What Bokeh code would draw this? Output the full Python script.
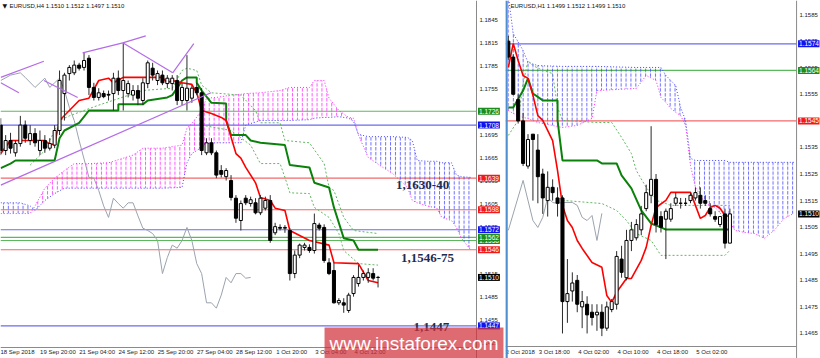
from bokeh.plotting import figure
from bokeh.models import Range1d, LinearAxis, FixedTicker, PrintfTickFormatter, Label, Span
from bokeh.layouts import row
from bokeh.embed import file_html
from bokeh.resources import INLINE
from bokeh.core.properties import value

# ======================= EURUSD H4 (left panel) =======================
h4_title = "EURUSD,H4  1.1510 1.1512 1.1497 1.1510"
h4_open = [1.1708,1.1675,1.1688,1.1672,1.1684,1.1708,1.1688,1.1697,1.1675,1.1688,
           1.1678,1.1682,1.1701,1.1749,1.1775,1.1776,1.1786,1.1783,1.1795,1.1757,
           1.1744,1.1749,1.1748,1.1749,1.1769,1.1753,1.1749,1.1747,1.1753,1.1740,
           1.1762,1.1782,1.1766,1.1773,1.1762,1.1762,1.1766,1.1740,1.1740,1.1743,
           1.1757,1.1750,1.1672,1.1685,1.1672,1.1649,1.1641,1.1636,1.1613,1.1584,
           1.1613,1.1606,1.1607,1.1594,1.1600,1.1610,1.1568,1.1575,1.1574,1.1571,
           1.1515,1.1539,1.1549,1.1549,1.1545,1.1578,1.1575,1.1529,1.1519,1.1477,
           1.1477,1.1467,1.1489,1.1502,1.1510,1.1510,1.1515,1.1510]
h4_high = [1.1717,1.1695,1.1698,1.1688,1.1720,1.1714,1.1708,1.1704,1.1701,1.1695,
           1.1691,1.1708,1.1779,1.1776,1.1786,1.1792,1.1789,1.1802,1.1799,1.1763,
           1.1756,1.1753,1.1753,1.1776,1.1779,1.1815,1.1766,1.1760,1.1760,1.1769,
           1.1792,1.1789,1.1779,1.1779,1.1773,1.1773,1.1773,1.1763,1.1799,1.1760,
           1.1763,1.1756,1.1691,1.1691,1.1675,1.1656,1.1652,1.1643,1.1617,1.1610,
           1.1617,1.1615,1.1613,1.1617,1.1615,1.1617,1.1581,1.1579,1.1578,1.1574,
           1.1545,1.1554,1.1555,1.1553,1.1593,1.1581,1.1579,1.1535,1.1529,1.1483,
           1.1483,1.1490,1.1513,1.1526,1.1519,1.1522,1.1522,1.1512]
h4_low = [1.1669,1.1669,1.1671,1.1667,1.1680,1.1685,1.1682,1.1680,1.1669,1.1672,
          1.1675,1.1678,1.1695,1.1714,1.1766,1.1773,1.1779,1.1779,1.1747,1.1740,
          1.1740,1.1743,1.1740,1.1727,1.1747,1.1727,1.1744,1.1740,1.1734,1.1734,
          1.1756,1.1766,1.1760,1.1760,1.1756,1.1753,1.1734,1.1734,1.1727,1.1737,
          1.1747,1.1669,1.1669,1.1669,1.1639,1.1640,1.1636,1.1610,1.1581,1.1571,
          1.1604,1.1602,1.1592,1.1591,1.1597,1.1555,1.1565,1.1571,1.1568,1.1506,
          1.1509,1.1535,1.1545,1.1542,1.1541,1.1571,1.1529,1.1513,1.1476,1.1474,
          1.1464,1.1464,1.1485,1.1498,1.1506,1.1503,1.1506,1.1497]
h4_close = [1.1675,1.1688,1.1678,1.1684,1.1708,1.1691,1.1697,1.1685,1.1688,1.1678,
            1.1684,1.1701,1.1766,1.1773,1.1783,1.1786,1.1782,1.1792,1.1757,1.1744,
            1.1750,1.1745,1.1747,1.1769,1.1753,1.1766,1.1762,1.1753,1.1743,1.1763,
            1.1789,1.1773,1.1775,1.1763,1.1769,1.1769,1.1740,1.1757,1.1756,1.1756,
            1.1750,1.1675,1.1685,1.1672,1.1643,1.1644,1.1649,1.1614,1.1587,1.1606,
            1.1607,1.1611,1.1594,1.1613,1.1610,1.1558,1.1576,1.1574,1.1575,1.1515,
            1.1539,1.1552,1.1552,1.1545,1.1580,1.1574,1.1532,1.1515,1.1477,1.1480,
            1.1474,1.1487,1.1510,1.1510,1.1515,1.1516,1.1509,1.1510]

h4_tenkan_bar = [0,2,9,10,11,12,14,16,18,20,22,23,25,33,34,35,37,39,40,41,
                 43,45,46,48,49,50,52,53,55,56,58,59,63,67,68,73,75,77]
h4_tenkan = [1.1671,1.1688,1.1688,1.1683,1.1683,1.1714,1.1727,1.1740,1.1743,1.1766,
             1.1769,1.1763,1.1770,1.1770,1.1763,1.1766,1.1763,1.1761,1.1750,1.1727,
             1.1723,1.1718,1.1714,1.1671,1.1665,1.1653,1.1633,1.1614,1.1610,1.1600,
             1.1597,1.1571,1.1558,1.1552,1.1529,1.1528,1.1506,1.1503]
h4_kijun_bar = [0,2,3,11,12,13,16,18,24,24,29,30,33,34,35,36,37,38,40,40,
                41,43,46,46,47,50,51,53,58,59,63,64,67,68,70,72,73,77]
h4_kijun = [1.1652,1.1658,1.1662,1.1662,1.1691,1.1701,1.1711,1.1727,1.1727,1.1735,
            1.1735,1.1740,1.1743,1.1744,1.1747,1.1756,1.1766,1.1770,1.1770,1.1763,
            1.1753,1.1737,1.1736,1.1714,1.1695,1.1695,1.1688,1.1685,1.1682,1.1656,
            1.1653,1.1633,1.1627,1.1601,1.1561,1.1558,1.1546,1.1546]
h4_dot1_bar = [6,9,12,14,20,29,35,37,38,40,41,43,49,52,53,57,58,63,66,67,68,70,72,77]
h4_dot1 = [1.1656,1.1675,1.1714,1.1720,1.1734,1.1753,1.1756,1.1779,1.1782,1.1779,
           1.1760,1.1750,1.1747,1.1727,1.1711,1.1711,1.1688,1.1685,1.1658,1.1627,
           1.1623,1.1588,1.1571,1.1567]
h4_dot2_bar = [41,47,51,53,57,58,59,63,64,67,69,70,73,77]
h4_dot2 = [1.1708,1.1701,1.1682,1.1658,1.1658,1.1640,1.1620,1.1619,1.1601,1.1588,
           1.1567,1.1545,1.1528,1.1526]
h4_chikou_bar = [0,2,4,5,7,9,10,11,12,13,14,15,16,18,19,20,21,22,23,24,
                 25,26,27,28,29,30,31,32,33,34,35,36,37,38,39,40,41,42,43,44,
                 45,46,47,48,49,50,51]
h4_chikou = [1.1766,1.1773,1.1776,1.1770,1.1757,1.1769,1.1757,1.1763,1.1769,1.1753,
             1.1731,1.1714,1.1688,1.1640,1.1639,1.1623,1.1603,1.1588,1.1613,1.1606,
             1.1600,1.1607,1.1607,1.1590,1.1574,1.1571,1.1567,1.1558,1.1515,1.1536,
             1.1552,1.1548,1.1558,1.1575,1.1558,1.1528,1.1515,1.1477,1.1477,1.1470,
             1.1487,1.1510,1.1503,1.1515,1.1515,1.1509,1.1510]
h4_cloud_bar = [0,4,6,7,9,11,13,15,18,22,27,29,33,37,38,39,41,42,44,47,
                49,50,53,57,59,63,64,66,67,69,71,72,73,75,78,80,83,84,85,87,
                89,90,92,93,94,96]
h4_span_a = [1.1593,1.1593,1.1593,1.1603,1.1626,1.1639,1.1649,1.1658,1.1658,1.1659,
             1.1669,1.1678,1.1678,1.1682,1.1704,1.1710,1.1727,1.1743,1.1744,1.1747,
             1.1748,1.1749,1.1750,1.1753,1.1757,1.1757,1.1766,1.1766,1.1743,1.1727,
             1.1718,1.1717,1.1695,1.1666,1.1653,1.1645,1.1627,1.1610,1.1607,1.1603,
             1.1600,1.1588,1.1584,1.1575,1.1561,1.1545]
h4_span_b = [1.1607,1.1607,1.1603,1.1597,1.1610,1.1619,1.1626,1.1626,1.1626,1.1626,
             1.1626,1.1626,1.1626,1.1627,1.1659,1.1671,1.1679,1.1684,1.1685,1.1685,
             1.1685,1.1708,1.1714,1.1714,1.1714,1.1715,1.1717,1.1718,1.1718,1.1719,
             1.1717,1.1713,1.1696,1.1693,1.1693,1.1693,1.1692,1.1688,1.1662,1.1661,
             1.1661,1.1659,1.1659,1.1643,1.1641,1.1640]
h4_trend_bars = [[0, 8.8], [0, 3.7], [8.8, 15.7], [16.7, 24.9, 29.6], [24.9, 35.1], [35.1, 39.4], [0, 42.9]]
h4_trend_prices = [[1.1770, 1.1791], [1.1763, 1.1750], [1.1766, 1.1744], [1.1802, 1.1815, 1.1824],
                   [1.1815, 1.1776], [1.1776, 1.1814], [1.1630, 1.1750]]
h4_levels = [1.1726, 1.1708, 1.1639, 1.1598, 1.1572, 1.1558, 1.1562, 1.1546, 1.1447]
h4_level_kind = ["green", "blue", "red", "red", "blue", "green", "green", "red", "blue"]
h4_last = 1.1510
h4_price_ticks = [1.1425, 1.1455, 1.1485, 1.1515, 1.1545, 1.1575, 1.1605, 1.1635,
                  1.1665, 1.1695, 1.1725, 1.1755, 1.1785, 1.1815, 1.1845]
h4_time_bars = [-1, 8, 16, 24, 32, 40, 48, 56, 64, 72]
h4_time_text = ["18 Sep 2018", "19 Sep 20:00", "21 Sep 04:00", "24 Sep 12:00", "25 Sep 20:00",
                "27 Sep 04:00", "28 Sep 12:00", "1 Oct 20:00", "3 Oct 04:00", "4 Oct 12:00"]
ann_text = ["1,1630-40", "1,1546-75", "1,1447"]
ann_bar = [86.1, 87.1, 87.9]
ann_price = [1.1630, 1.1535, 1.14455]

# ======================= EURUSD H1 (right panel) =======================
h1_title = "EURUSD,H1  1.1499 1.1512 1.1499 1.1510"
h1_open = [1.1575,1.1569,1.1553,1.1545,1.1528,1.1540,1.1534,1.1525,1.1515,1.1520,
           1.1516,1.1516,1.1477,1.1481,1.1485,1.1475,1.1476,1.1473,1.1472,1.1473,
           1.1467,1.1474,1.1476,1.1493,1.1486,1.1500,1.1501,1.1504,1.1512,1.1517,
           1.1523,1.1509,1.1508,1.1508,1.1514,1.1514,1.1514,1.1515,1.1516,1.1517,
           1.1515,1.1512,1.1509,1.1506,1.1510,1.1499]
h1_high = [1.1577,1.1570,1.1555,1.1548,1.1540,1.1540,1.1540,1.1527,1.1526,1.1523,
           1.1520,1.1517,1.1493,1.1488,1.1487,1.1481,1.1479,1.1476,1.1476,1.1476,
           1.1477,1.1478,1.1496,1.1498,1.1504,1.1507,1.1508,1.1513,1.1521,1.1543,
           1.1525,1.1511,1.1512,1.1514,1.1518,1.1516,1.1516,1.1518,1.1520,1.1520,
           1.1517,1.1514,1.1511,1.1509,1.1512,1.1512]
h1_low = [1.1568,1.1555,1.1544,1.1528,1.1527,1.1515,1.1514,1.1510,1.1509,1.1515,
          1.1509,1.1465,1.1469,1.1477,1.1473,1.1467,1.1465,1.1468,1.1466,1.1464,
          1.1466,1.1473,1.1474,1.1486,1.1485,1.1496,1.1500,1.1502,1.1511,1.1514,
          1.1503,1.1503,1.1493,1.1507,1.1513,1.1512,1.1513,1.1514,1.1515,1.1512,
          1.1513,1.1509,1.1507,1.1505,1.1497,1.1499]
h1_close = [1.1569,1.1555,1.1545,1.1529,1.1538,1.1538,1.1524,1.1516,1.1520,1.1518,
            1.1514,1.1477,1.1480,1.1484,1.1476,1.1477,1.1472,1.1471,1.1473,1.1467,
            1.1475,1.1477,1.1494,1.1488,1.1500,1.1504,1.1506,1.1510,1.1518,1.1523,
            1.1506,1.1505,1.1511,1.1512,1.1516,1.1514,1.1514,1.1517,1.1518,1.1514,
            1.1514,1.1510,1.1508,1.1509,1.1499,1.1510]
h1_tenkan_bar = [0,1,2,3,4,5,6,7,9,10,11,12,13,14,15,17,19,20,21,22,
                 24,25,27,28,29,30,32,33,37,38,39,40,41,42,43,44,45]
h1_tenkan = [1.15651,1.15741,1.15677,1.15621,1.15610,1.15546,1.15470,1.15452,1.15376,1.15263,
             1.15132,1.15075,1.15049,1.15000,1.14970,1.14917,1.14899,1.14793,1.14767,1.14805,
             1.14857,1.14857,1.14925,1.14974,1.15057,1.15124,1.15151,1.15181,1.15181,1.15132,
             1.15083,1.15094,1.15124,1.15132,1.15121,1.15094,1.15090]
h1_kijun_bar = [0,1,3,4,5,7,10,10,11,18,19,22,23,25,27,29,31,32,45]
h1_kijun = [1.15500,1.15500,1.15564,1.15610,1.15553,1.15527,1.15527,1.15452,1.15301,1.15301,
            1.15290,1.15290,1.15245,1.15196,1.15113,1.15064,1.15049,1.15041,1.15041]
h1_dot1_bar = [0,2,3,4,5,7,9,10,11,18,21,23,25,26,28,30,32,33,45]
h1_dot1 = [1.15395,1.15452,1.15591,1.15677,1.15658,1.15640,1.15628,1.15500,1.15452,1.15444,
           1.15444,1.15388,1.15327,1.15263,1.15200,1.15151,1.15139,1.15132,1.15132]
h1_dot2_bar = [11,19,22,24,26,29,31,44,45]
h1_dot2 = [1.15151,1.15139,1.15113,1.15075,1.15026,1.15000,1.14944,1.14944,1.14963]
h1_chikou_bar = [0,3,5,6,7,8,9,10,11,13,14,15,16,17,18,19]
h1_chikou = [1.15038,1.15226,1.15075,1.15049,1.15087,1.15162,1.15143,1.15139,1.15143,1.15143,
             1.15132,1.15087,1.15075,1.15094,1.15000,1.15102]
h1_cloud_bar = [0,1,3,4,6,11,14,17,18,26,28,30,31,32,33,34,35,36,37,38,
                40,42,44,45,46,48,50,52,54,56,58]
h1_span_a = [1.15489,1.15478,1.15463,1.15459,1.15444,1.15425,1.15433,1.15459,1.15564,1.15572,
             1.15621,1.15602,1.15538,1.15519,1.15497,1.15482,1.15470,1.15433,1.15282,1.15200,
             1.15139,1.15124,1.15083,1.15068,1.15038,1.15030,1.15026,1.15008,1.15038,1.15083,
             1.15102]
h1_span_b = [1.15920,1.15779,1.15715,1.15670,1.15658,1.15655,1.15655,1.15655,1.15655,1.15651,
             1.15651,1.15651,1.15651,1.15621,1.15602,1.15583,1.15500,1.15452,1.15309,1.15301,
             1.15301,1.15301,1.15301,1.15294,1.15294,1.15294,1.15294,1.15294,1.15294,1.15294,
             1.15294]
h1_levels = [1.1574, 1.1564, 1.1545]
h1_level_kind = ["blue", "green", "red"]
h1_last = 1.1510
h1_price_ticks = [1.1465, 1.1475, 1.1485, 1.1495, 1.1505, 1.1515, 1.1525, 1.1535,
                  1.1545, 1.1555, 1.1565, 1.1575, 1.1585]
h1_time_bars = [-2, 6, 14, 22, 30, 38]
h1_time_text = ["3 Oct 2018", "3 Oct 18:00", "4 Oct 02:00", "4 Oct 10:00", "4 Oct 18:00", "5 Oct 02:00"]

# ======================= styling / layout =======================
FONT = "Liberation Sans"
LINE_COL = {"green": "#5cb85c", "blue": "#6b6bf0", "red": "#f26a6a"}
TAG_COL = {"green": "#1c8c1c", "blue": "#1212ee", "red": "#f01a1a", "black": "#000000"}
BULL_CLOUD = "#ff2bff"
BEAR_CLOUD = "#4848ff"
AXIS_COL = "#8a8a8a"
H = 358

# left canvas 505 px wide; price column starts at 476, time row at 347
H4_W, H4_AX, H4_AY = 505, 476, 347
H4_X = (-0.05, -0.05 + 505 / 4.9)
H4_Y = (1.1870 - 0.00013 * 358, 1.1870)
# right canvas 315 px wide (starts at 505); price column at 292, time row at 346
H1_W, H1_AX, H1_AY = 315, 292, 346
H1_X = (-0.57, -0.57 + 315 / 4.94)
H1_Y = (1.15903 - 0.00003763 * 358, 1.15903)


def dx(xr, w, px):
    return xr[0] + (xr[1] - xr[0]) * px / w


def dy(yr, py):
    return yr[1] - (yr[1] - yr[0]) * py / H


def make_fig(width, xr, yr):
    p = figure(width=width, height=H, x_range=Range1d(*xr), y_range=Range1d(*yr),
               output_backend="svg", toolbar_location=None,
               x_axis_location=None, y_axis_location=None,
               min_border_left=0, min_border_right=0, min_border_top=0, min_border_bottom=0)
    p.grid.visible = False
    p.outline_line_color = None
    p.background_fill_color = "white"
    p.border_fill_color = "white"
    return p


def style_axis(ax):
    ax.axis_line_color = None
    ax.major_tick_line_color = None
    ax.minor_tick_line_color = None
    ax.major_tick_in = 0
    ax.major_tick_out = 0
    ax.major_label_text_font = FONT
    ax.major_label_text_font_size = "6px"
    ax.major_label_text_color = "#222222"


def add_axes(p, width, axis_px, price_ticks, time_bars, time_text, px_per_bar):
    ya = LinearAxis(ticker=FixedTicker(ticks=price_ticks, minor_ticks=[]),
                    formatter=PrintfTickFormatter(format="%.4f"))
    style_axis(ya)
    ya.major_label_standoff = axis_px + 3 - width
    p.add_layout(ya, "right")
    pos = [b + len(t) * 1.5 / px_per_bar for b, t in zip(time_bars, time_text)]
    xa = LinearAxis(ticker=FixedTicker(ticks=pos, minor_ticks=[]),
                    major_label_overrides={q: t for q, t in zip(pos, time_text)})
    style_axis(xa)
    xa.major_label_standoff = -10
    p.add_layout(xa, "below")


def frame_lines(p, xr, yr, width, ax_px, ay_px):
    x_ax = dx(xr, width, ax_px)
    y_ax = dy(yr, ay_px)
    p.segment(x0=[x_ax, xr[0]], y0=[yr[0], y_ax], x1=[x_ax, x_ax], y1=[yr[1], y_ax],
              line_color=AXIS_COL, line_width=1)
    return x_ax


def split_cloud(xs, a, b):
    pieces = []
    cx, ca, cb = [xs[0]], [a[0]], [b[0]]
    bull = a[0] >= b[0]
    for k in range(1, len(xs)):
        nb = a[k] >= b[k]
        if nb != bull:
            d0, d1 = a[k - 1] - b[k - 1], a[k] - b[k]
            t = d0 / (d0 - d1)
            xc = xs[k - 1] + t * (xs[k] - xs[k - 1])
            yc = a[k - 1] + t * (a[k] - a[k - 1])
            cx.append(xc); ca.append(yc); cb.append(yc)
            pieces.append((cx, ca, cb, bull))
            cx, ca, cb = [xc], [yc], [yc]
            bull = nb
        cx.append(xs[k]); ca.append(a[k]); cb.append(b[k])
    pieces.append((cx, ca, cb, bull))
    return pieces


def draw_cloud(p, xs, a, b):
    for px_, pa, pb, bull in split_cloud(xs, a, b):
        col = BULL_CLOUD if bull else BEAR_CLOUD
        p.varea(x=px_, y1=pa, y2=pb, fill_color=None, fill_alpha=0,
                hatch_pattern=":", hatch_color=col, hatch_scale=4.9, hatch_weight=1, hatch_alpha=0.8)
    p.line(xs, a, line_color=BULL_CLOUD, line_dash="1 2", line_width=1)
    p.line(xs, b, line_color=BEAR_CLOUD, line_dash="1 2", line_width=1)


def draw_candles(p, o, h, l, c):
    bars = list(range(len(o)))
    p.segment(x0=bars, y0=l, x1=bars, y1=h, line_color="#2b2b2b", line_width=1)
    tops = [max(u, v) for u, v in zip(o, c)]
    bots = [min(u, v) for u, v in zip(o, c)]
    fills = ["white" if v >= u else "black" for u, v in zip(o, c)]
    p.vbar(x=bars, width=0.62, top=tops, bottom=bots, fill_color=fills,
           line_color="black", line_width=1)


def draw_levels(p, x0, x1, levels, kinds):
    p.segment(x0=[x0] * len(levels), y0=levels, x1=[x1] * len(levels), y1=levels,
              line_color=[LINE_COL[k] for k in kinds], line_width=1.2)


def price_tag(p, x, price, kind):
    p.add_layout(Label(x=x, y=price, text="%.4f" % price, text_font=FONT, text_font_size="6.5px",
                       text_color="white", text_align="left", text_baseline="middle",
                       background_fill_color=TAG_COL[kind], background_fill_alpha=1.0,
                       padding=1))


def title(p, xr, width, yr, px, text):
    p.add_layout(Label(x=dx(xr, width, px), y=dy(yr, 5), text=text, text_font=FONT,
                       text_font_size="6px", text_color="#111111", text_align="left",
                       text_baseline="middle"))


# ----------------------- left panel -----------------------
left = make_fig(H4_W, H4_X, H4_Y)
add_axes(left, H4_W, H4_AX, h4_price_ticks, h4_time_bars, h4_time_text, 4.9)
x_ax4 = frame_lines(left, H4_X, H4_Y, H4_W, H4_AX, H4_AY)
draw_levels(left, H4_X[0], x_ax4, h4_levels, h4_level_kind)
draw_cloud(left, h4_cloud_bar, h4_span_a, h4_span_b)
left.line(h4_chikou_bar, h4_chikou, line_color="#9aa3ad", line_width=1)
left.line(h4_dot1_bar, h4_dot1, line_color="#62b862", line_dash="2 2", line_width=1)
left.line(h4_dot2_bar, h4_dot2, line_color="#62b862", line_dash="2 2", line_width=1)
left.line(h4_kijun_bar, h4_kijun, line_color="#0a820a", line_width=2)
left.line(h4_tenkan_bar, h4_tenkan, line_color="#ff0000", line_width=1.6)
draw_candles(left, h4_open, h4_high, h4_low, h4_close)
left.multi_line(xs=h4_trend_bars, ys=h4_trend_prices, line_color="#b46be8", line_width=1.2)
left.text(x=ann_bar, y=ann_price, text=ann_text, text_font=value("Liberation Serif"),
          text_font_style="bold", text_font_size="13px", text_color="#1d2c4f",
          text_align="center", text_baseline="middle")
tag_x4 = dx(H4_X, H4_W, H4_AX + 1.5)
for lv, k in zip(h4_levels, h4_level_kind):
    price_tag(left, tag_x4, lv, k)
price_tag(left, tag_x4, h4_last, "black")
left.add_layout(Label(x=dx(H4_X, H4_W, 2), y=dy(H4_Y, 5), text="\u25bc",
                      text_font="DejaVu Sans", text_font_size="6px", text_color="#111111",
                      text_align="left", text_baseline="middle"))
title(left, H4_X, H4_W, H4_Y, 9, h4_title)
left.add_layout(Label(x=dx(H4_X, H4_W, 413.5), y=dy(H4_Y, 342.5), text="www.instaforex.com",
                      text_font=FONT, text_font_size="19px", text_color="white",
                      text_align="center", text_baseline="middle",
                      background_fill_color="#d2323c", background_fill_alpha=0.72, padding=5))

# ----------------------- right panel -----------------------
right = make_fig(H1_W, H1_X, H1_Y)
add_axes(right, H1_W, H1_AX, h1_price_ticks, h1_time_bars, h1_time_text, 4.94)
x_ax1 = frame_lines(right, H1_X, H1_Y, H1_W, H1_AX, H1_AY)
draw_levels(right, H1_X[0], x_ax1, h1_levels, h1_level_kind)
draw_cloud(right, h1_cloud_bar, h1_span_a, h1_span_b)
right.line(h1_chikou_bar, h1_chikou, line_color="#9aa3ad", line_width=1)
right.line(h1_dot1_bar, h1_dot1, line_color="#62b862", line_dash="2 2", line_width=1)
right.line(h1_dot2_bar, h1_dot2, line_color="#62b862", line_dash="2 2", line_width=1)
right.line(h1_kijun_bar, h1_kijun, line_color="#0a820a", line_width=2)
right.line(h1_tenkan_bar, h1_tenkan, line_color="#ff0000", line_width=1.6)
draw_candles(right, h1_open, h1_high, h1_low, h1_close)
tag_x1 = dx(H1_X, H1_W, H1_AX + 1.5)
for lv, k in zip(h1_levels, h1_level_kind):
    price_tag(right, tag_x1, lv, k)
price_tag(right, tag_x1, h1_last, "black")
title(right, H1_X, H1_W, H1_Y, 5, h1_title)
right.add_layout(Span(location=dx(H1_X, H1_W, 1), dimension="height",
                      line_color="#4f8fcf", line_width=2.5))

layout = row(left, right)
open("out.html", "w").write(file_html(layout, INLINE))
